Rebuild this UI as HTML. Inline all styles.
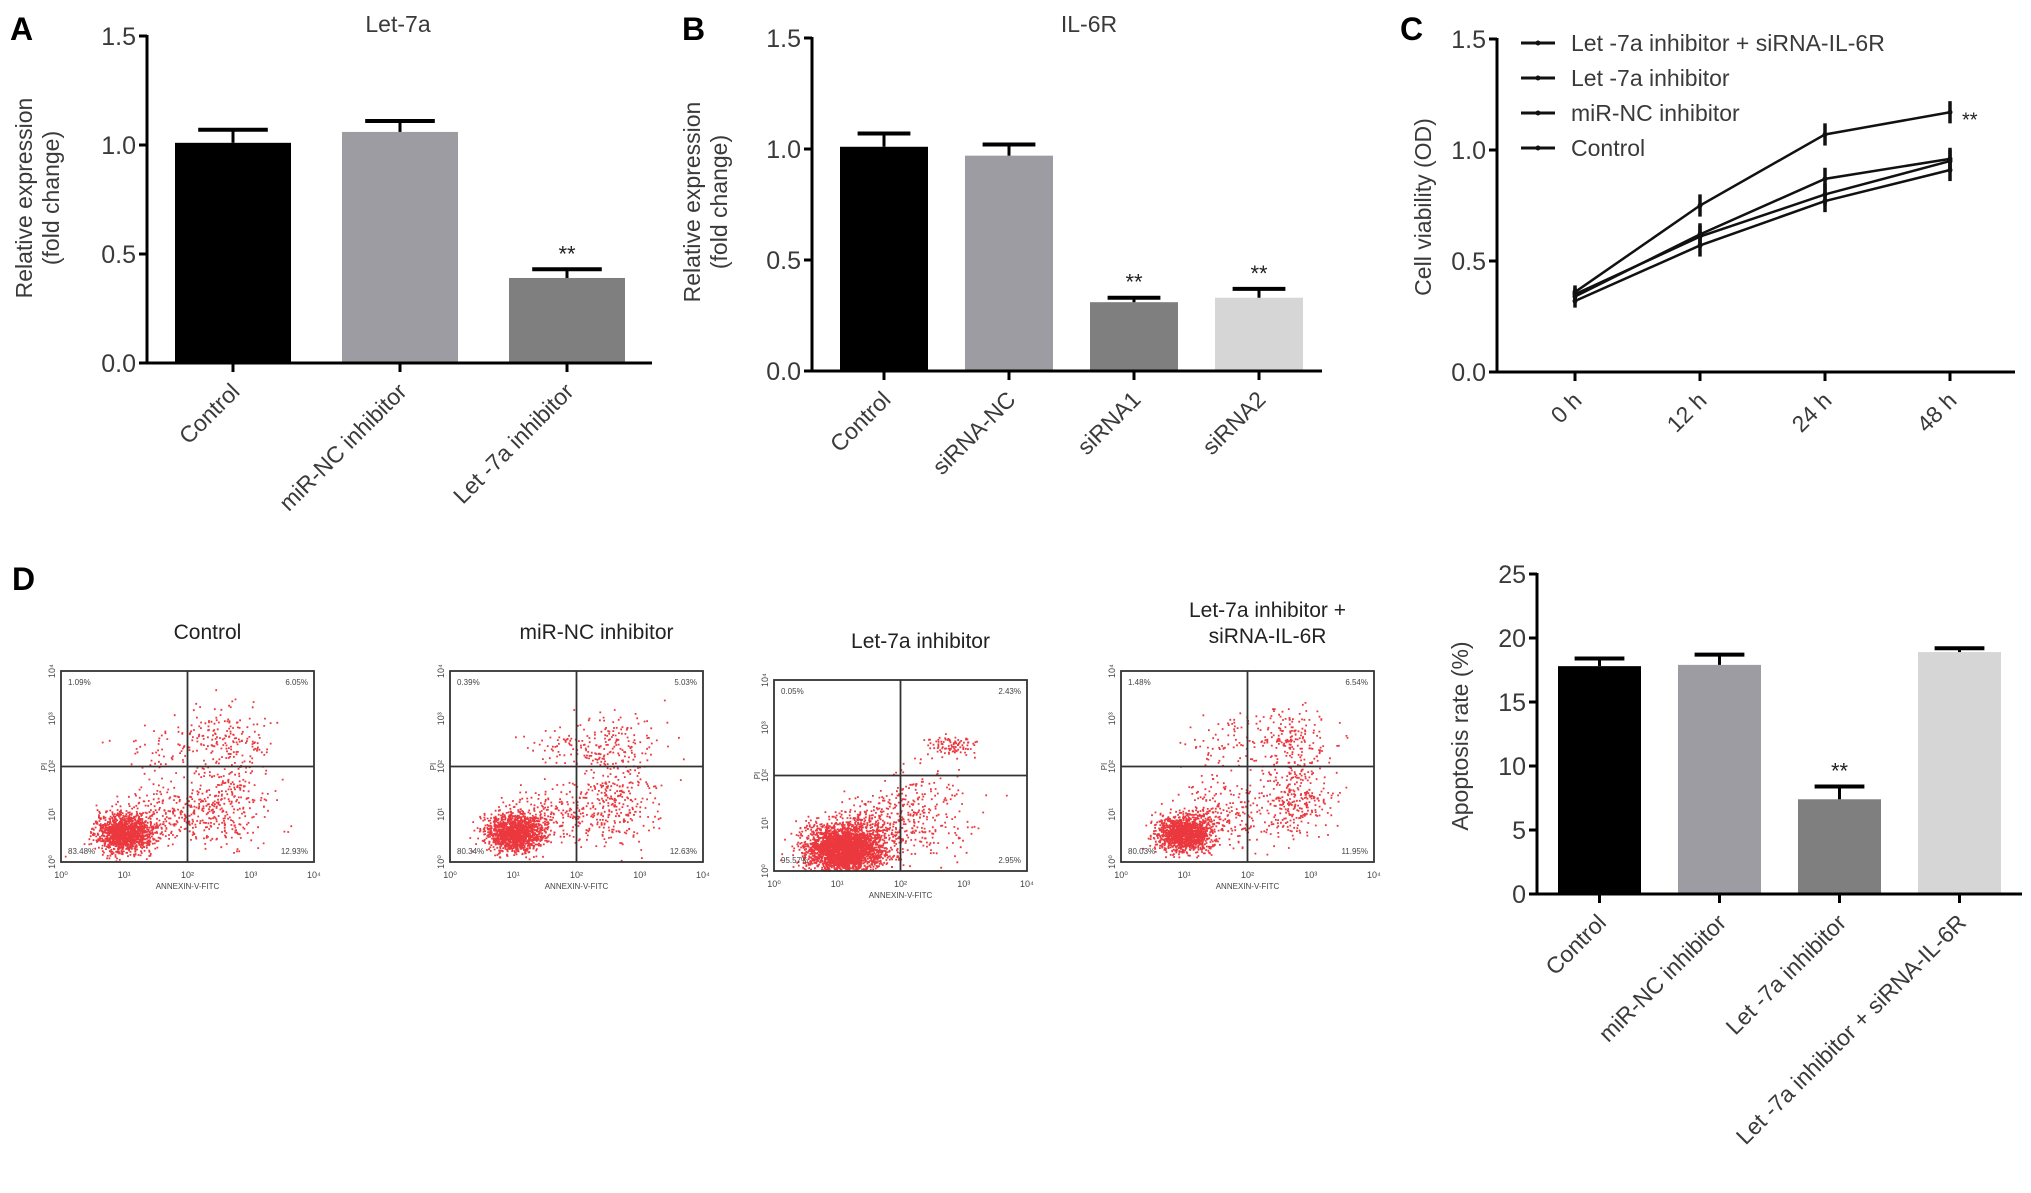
<!DOCTYPE html>
<html><head><meta charset="utf-8"><style>
body{margin:0;background:#fff;}
svg{display:block;font-family:"Liberation Sans",Arial,sans-serif;}
</style></head><body>
<svg id="fig" width="2031" height="1193" viewBox="0 0 2031 1193" xmlns="http://www.w3.org/2000/svg"></svg>
<script>
// ---- Data ----
const catsA = ["Control","miR-NC inhibitor","Let -7a inhibitor"];
const valsA = [1.01,1.06,0.39];
const errA = [0.06,0.05,0.04];
const catsB = ["Control","siRNA-NC","siRNA1","siRNA2"];
const valsB = [1.01,0.97,0.31,0.33];
const errB = [0.06,0.05,0.02,0.04];
const timesC = ["0 h","12 h","24 h","48 h"];
const seriesNamesC = ["Let -7a inhibitor + siRNA-IL-6R","Let -7a inhibitor","miR-NC inhibitor","Control"];
const sLetSi = [0.35,0.61,0.80,0.95];
const sLet = [0.36,0.75,1.07,1.17];
const sMiR = [0.34,0.62,0.87,0.96];
const sCtrl = [0.32,0.57,0.77,0.91];
const errC = [0.03,0.05,0.05,0.05];
const catsD = ["Control","miR-NC inhibitor","Let -7a inhibitor","Let -7a inhibitor + siRNA-IL-6R"];
const valsD = [17.8,17.9,7.4,18.9];
const errD = [0.6,0.8,1.0,0.3];
const ticks15 = ["0.0","0.5","1.0","1.5"];
const ticksD = ["0","5","10","15","20","25"];
const flowTitles = [["Control"],["miR-NC inhibitor"],["Let-7a inhibitor"],["Let-7a inhibitor +","siRNA-IL-6R"]];
const flowQuad = [["1.09%","6.05%","83.48%","12.93%"],["0.39%","5.03%","80.34%","12.63%"],["0.05%","2.43%","95.57%","2.95%"],["1.48%","6.54%","80.03%","11.95%"]];

const NS="http://www.w3.org/2000/svg";
const svg=document.getElementById('fig');
function el(tag,attrs,parent,text){const e=document.createElementNS(NS,tag);for(const k in attrs)e.setAttribute(k,attrs[k]);if(text!==undefined)e.textContent=text;(parent||svg).appendChild(e);return e;}
const FS=23, TXT="#3a3a3a";

function panelLetter(t,x,y){const e=el('text',{x:x,y:y,'font-size':32,'font-weight':'bold',fill:'#000'},svg,t);

}

function barChart(o){
  const g=el('g',{});
  
  
  const y=v=>o.y0-(v/o.max)*(o.y0-o.yTop);
  o.vals.forEach((v,i)=>{
    const x0=o.barX[0]+i*o.step;
    const r=el('rect',{x:x0,y:y(v),width:o.bw,height:o.y0-y(v),fill:o.colors[i]},g);
    
    
    const cx=x0+o.bw/2;
    el('line',{x1:cx,x2:cx,y1:y(v),y2:y(v+o.err[i]),stroke:'#000','stroke-width':3},g);
    el('line',{x1:cx-o.bw*0.3,x2:cx+o.bw*0.3,y1:y(v+o.err[i]),y2:y(v+o.err[i]),stroke:'#000','stroke-width':4},g);
    if(o.stars&&o.stars[i]){const s=el('text',{x:cx,y:y(v+o.err[i])-8,'text-anchor':'middle','font-size':22,fill:'#222'},g,'**');
      
      }
    el('line',{x1:cx,x2:cx,y1:o.y0,y2:o.y0+9,stroke:'#000','stroke-width':3},g);
    const t=el('text',{x:cx+8,y:o.y0+30,'text-anchor':'end','font-size':FS,fill:TXT,transform:`rotate(-45 ${cx+8} ${o.y0+30})`},g,o.cats[i]);
    
    
  });
  el('line',{x1:o.ax,x2:o.ax,y1:o.yTop-1,y2:o.y0+1.5,stroke:'#000','stroke-width':3},g);
  el('line',{x1:o.ax-8,x2:o.xEnd,y1:o.y0,y2:o.y0,stroke:'#000','stroke-width':3},g);
  o.ticks.forEach((tl,i)=>{const v=parseFloat(tl);const yy=y(v);
    el('line',{x1:o.ax-8,x2:o.ax,y1:yy,y2:yy,stroke:'#000','stroke-width':3},g);
    const t=el('text',{x:o.ax-11,y:yy+9,'text-anchor':'end','font-size':FS+2,fill:TXT},g,tl);
    
    });
  if(o.title){const t=el('text',{x:o.titleX,y:o.titleY,'text-anchor':'middle','font-size':FS,fill:TXT},g,o.title);
    
    }
  const yl=el('text',{'font-size':FS,fill:TXT,'text-anchor':'middle',transform:`translate(${o.ylX},${o.ylY}) rotate(-90)`},g);
  
  
  o.ylabel.forEach((l,i)=>el('tspan',{x:0,y:i*27},yl,l));
}

const cols4=['#000','#9c9ca2','#7f7f7f','#d6d6d6'];
barChart({name:'chart-a-let7a',cats:catsA,vals:valsA,err:errA,colors:cols4,max:1.5,ticks:ticks15,
  ax:147,yTop:36,y0:363,xEnd:652,barX:[175],step:167,bw:116,stars:[0,0,1],
  title:'Let-7a',titleX:398,titleY:32,ylabel:['Relative expression','(fold change)'],ylX:32,ylY:198});
barChart({name:'chart-b-il6r',cats:catsB,vals:valsB,err:errB,colors:cols4,max:1.5,ticks:ticks15,
  ax:812,yTop:38,y0:371,xEnd:1322,barX:[840],step:125,bw:88,stars:[0,0,1,1],
  title:'IL-6R',titleX:1089,titleY:32,ylabel:['Relative expression','(fold change)'],ylX:700,ylY:202});
barChart({name:'chart-d-apoptosis',cats:catsD,vals:valsD,err:errD,colors:cols4,max:25,ticks:ticksD,
  ax:1537,yTop:574,y0:894,xEnd:2022,barX:[1558],step:120,bw:83,stars:[0,0,1,0],
  ylabel:['Apoptosis rate (%)'],ylX:1468,ylY:736});

panelLetter('A',10,40);panelLetter('B',682,40);panelLetter('C',1400,40);panelLetter('D',12,590);

// ---- Line chart C ----
(function(){
  const g=el('g',{});
  
  
  const ax=1497,y0=372,yTop=39,max=1.5;
  const y=v=>y0-(v/max)*(y0-yTop);
  const xs=i=>1575+i*125;
  const series=[sLetSi,sLet,sMiR,sCtrl];
  el('line',{x1:ax,x2:ax,y1:yTop-1,y2:y0+1.5,stroke:'#000','stroke-width':3},g);
  el('line',{x1:ax-8,x2:2015,y1:y0,y2:y0,stroke:'#000','stroke-width':3},g);
  ticks15.forEach(tl=>{const yy=y(parseFloat(tl));
    el('line',{x1:ax-8,x2:ax,y1:yy,y2:yy,stroke:'#000','stroke-width':3},g);
    const t=el('text',{x:ax-11,y:yy+9,'text-anchor':'end','font-size':FS+2,fill:TXT},g,tl);
    
    });
  timesC.forEach((tl,i)=>{const cx=xs(i);
    el('line',{x1:cx,x2:cx,y1:y0,y2:y0+9,stroke:'#000','stroke-width':3},g);
    const t=el('text',{x:cx+8,y:y0+30,'text-anchor':'end','font-size':FS,fill:TXT,transform:`rotate(-45 ${cx+8} ${y0+30})`},g,tl);
    
    });
  series.forEach((s,k)=>{
    const p=el('polyline',{points:s.map((v,i)=>xs(i)+','+y(v)).join(' '),fill:'none',stroke:'#111','stroke-width':2.5},g);
    
    
    s.forEach((v,i)=>{el('line',{x1:xs(i),x2:xs(i),y1:y(v-errC[i]),y2:y(v+errC[i]),stroke:'#111','stroke-width':3.5},g);
      el('circle',{cx:xs(i),cy:y(v),r:2.5,fill:'#111'},g);});
  });
  const st=el('text',{x:xs(3)+12,y:y(sLet[3])+14,'font-size':20,fill:'#222'},g,'**');
  
  
  seriesNamesC.forEach((n,k)=>{const ly=43+k*35;
    const lg=el('g',{},g);
    
    
    el('line',{x1:1521,x2:1555,y1:ly,y2:ly,stroke:'#111','stroke-width':3},lg);
    el('circle',{cx:1538,cy:ly,r:2.5,fill:'#111'},lg);
    el('text',{x:1571,y:ly+8,'font-size':FS,fill:TXT},lg,n);});
  const yl=el('text',{'font-size':FS,fill:TXT,'text-anchor':'middle',transform:'translate(1431,207) rotate(-90)'},g,'Cell viability (OD)');
  
  
})();

// ---- Flow cytometry plots ----
const flowFrames=[[61,671],[450,671],[774,680],[1121,671]];
const clusterCenters=[[[1.0,0.6,0.22,0.2,1400],[2.6,1.2,0.35,0.45,320],[2.6,2.6,0.35,0.3,180],[1.6,2.3,0.3,0.25,50],[1.6,1.0,0.35,0.3,200]],
 [[1.0,0.6,0.22,0.2,1400],[2.6,1.2,0.35,0.45,300],[2.6,2.5,0.35,0.3,160],[1.7,2.4,0.3,0.25,50],[1.6,1.0,0.35,0.3,200]],
 [[1.1,0.45,0.3,0.25,3000],[2.3,1.2,0.4,0.5,220],[2.8,2.6,0.2,0.1,100],[1.6,0.9,0.35,0.3,300]],
 [[1.0,0.6,0.22,0.2,1300],[2.7,1.3,0.3,0.45,320],[2.6,2.6,0.35,0.3,190],[1.6,2.4,0.3,0.3,60],[1.6,1.0,0.35,0.3,200]]];
let seed=7;function rnd(){seed=(seed*16807)%2147483647;return seed/2147483647;}
function gauss(){return Math.sqrt(-2*Math.log(rnd()+1e-9))*Math.cos(2*Math.PI*rnd());}
flowFrames.forEach((f,p)=>{
  const g=el('g',{});
  
  
  const [x0,y0]=f,w=253,h=191;
  const tl=flowTitles[p];
  tl.forEach((t,i)=>{const e=el('text',{x:x0+w/2+20,y:y0-(tl.length-i)*26-2+ (tl.length==1?-4:0),'text-anchor':'middle','font-size':21,fill:'#222'},g,t);
    
    });
  let pts='';
  clusterCenters[p].forEach(c=>{for(let i=0;i<c[4];i++){const lx=c[0]+gauss()*c[2],ly=c[1]+gauss()*c[3];
    if(lx<0||lx>4||ly<0||ly>4)continue;const px=x0+lx*w/4,py=y0+h-ly*h/4;pts+=`M${px.toFixed(1)} ${py.toFixed(1)}h1.8`;}});
  el('path',{d:pts,stroke:'#e8141c','stroke-width':1.8,'stroke-opacity':0.85},g);
  el('rect',{x:x0,y:y0,width:w,height:h,fill:'none',stroke:'#333','stroke-width':1.8},g);
  el('line',{x1:x0+w/2,x2:x0+w/2,y1:y0,y2:y0+h,stroke:'#333','stroke-width':1.8},g);
  el('line',{x1:x0,x2:x0+w,y1:y0+h/2,y2:y0+h/2,stroke:'#333','stroke-width':1.8},g);
  const q=flowQuad[p];
  [[x0+7,y0+14,'start',0],[x0+w-6,y0+14,'end',1],[x0+7,y0+h-8,'start',2],[x0+w-6,y0+h-8,'end',3]].forEach(a=>el('text',{x:a[0],y:a[1],'text-anchor':a[2],'font-size':8,fill:'#444'},g,q[a[3]]));
  for(let d=0;d<=4;d++){
    el('text',{x:x0+d*w/4,y:y0+h+16,'text-anchor':'middle','font-size':9,fill:'#444'},g,'10'+['⁰','¹','²','³','⁴'][d]);
    el('text',{x:x0-6,y:y0+h-d*h/4,'text-anchor':'middle','font-size':9,fill:'#444',transform:`rotate(-90 ${x0-6} ${y0+h-d*h/4})`},g,'10'+['⁰','¹','²','³','⁴'][d]);
  }
  el('text',{x:x0+w/2,y:y0+h+27,'text-anchor':'middle','font-size':8,fill:'#444'},g,'ANNEXIN-V-FITC');
  el('text',{x:x0-14,y:y0+h/2,'text-anchor':'middle','font-size':8,fill:'#444',transform:`rotate(-90 ${x0-14} ${y0+h/2})`},g,'PI');
});
</script>
</body></html>
